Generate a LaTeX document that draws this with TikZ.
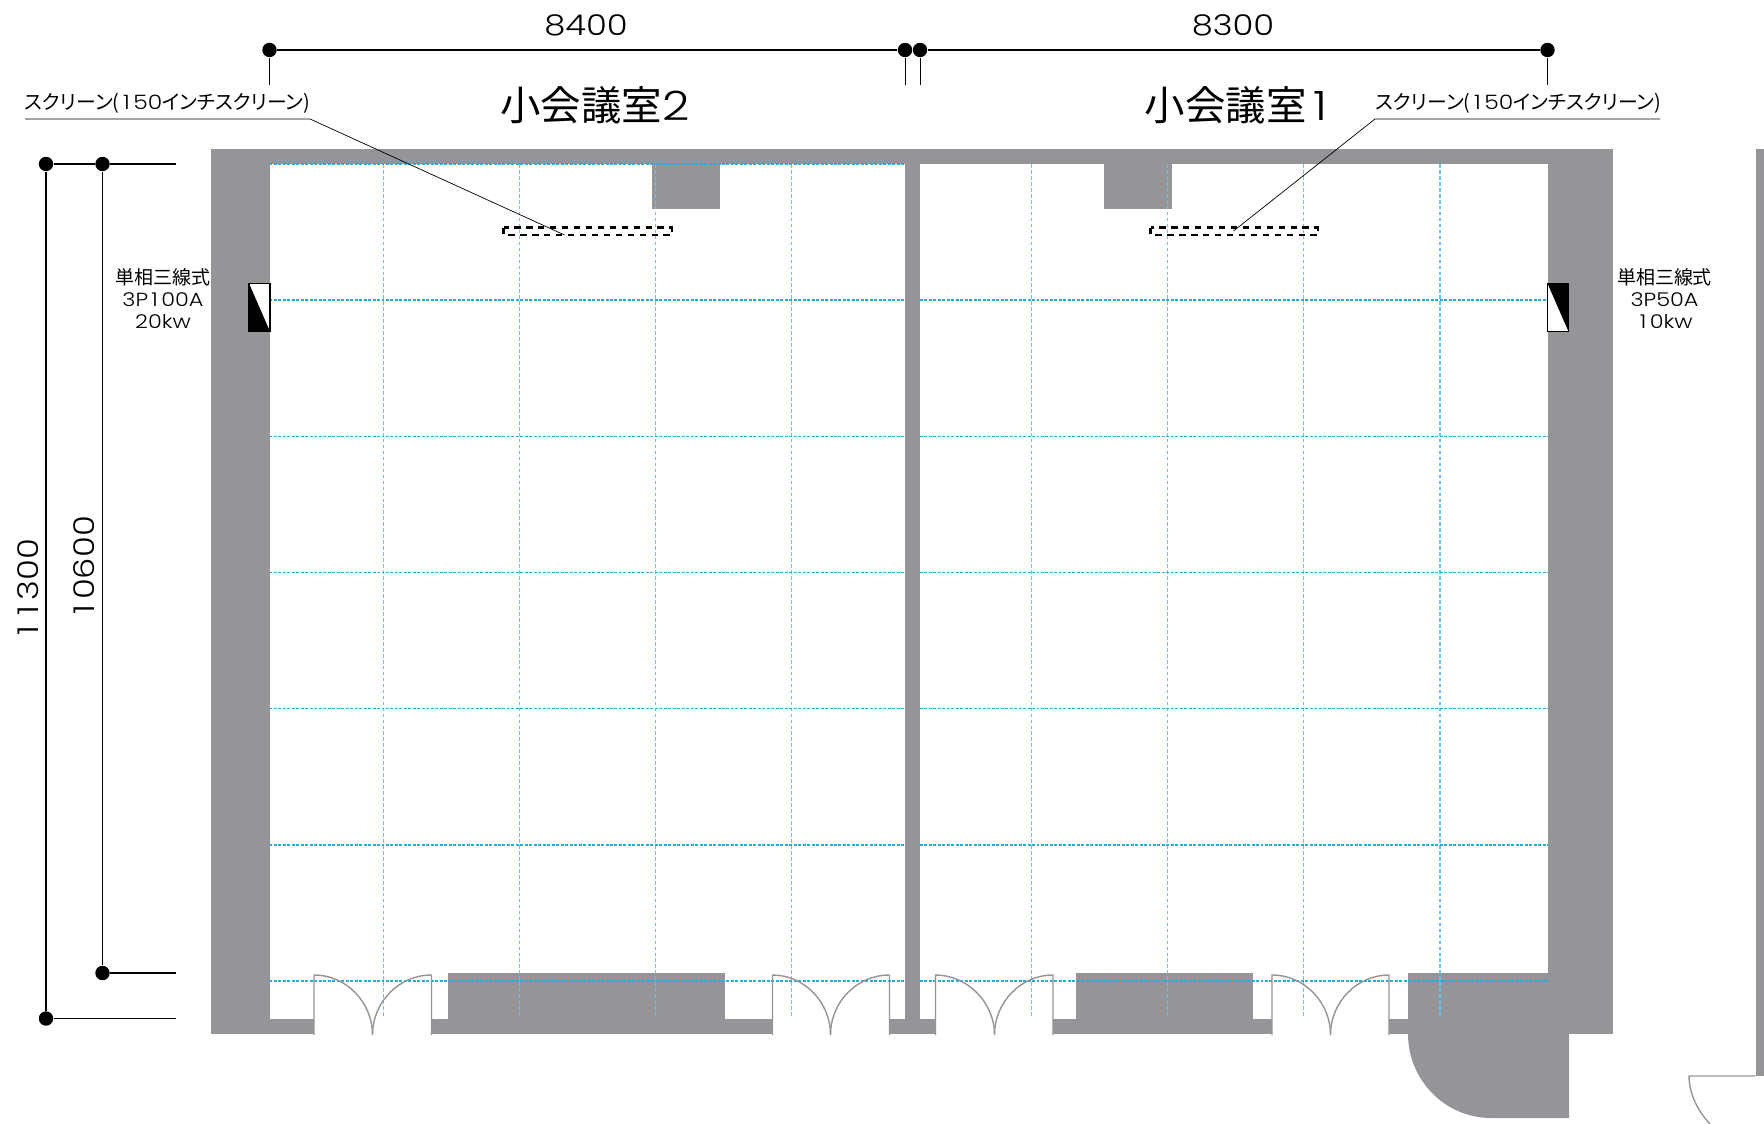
\documentclass[tikz,border=0pt]{standalone}
\usepackage{fontspec}
\setmainfont{Poppins}[UprightFont=* Light,FakeStretch=1.18]
\newfontfamily\jpfont{Noto Sans CJK JP}[RawFeature=+palt]
\newcommand{\wideone}{\makebox[0.7em]{1}}
\definecolor{wallgray}{HTML}{939598}
\definecolor{gridblue}{HTML}{29ABE2}
\tikzstyle{wall} = [fill=wallgray]
\tikzstyle{room} = [fill=white]
\tikzstyle{gridh} = [gridblue, line width=0.6pt, dash pattern=on 1.7pt off 0.85pt]
\tikzstyle{gridv} = [gridblue!70, line width=0.8pt, dash pattern=on 2.1pt off 1.3pt]
\tikzstyle{door} = [wallgray, line width=0.8pt]
\tikzstyle{dimdot} = [circle, fill=black, inner sep=0pt, minimum size=8.2pt]
\tikzstyle{dimline} = [black, line width=0.85pt]
\tikzstyle{tick} = [black, line width=0.5pt]
\tikzstyle{leader} = [black, line width=0.4pt]
\tikzstyle{screen} = [black, line width=1.6pt, dash pattern=on 3.7pt off 3.1pt]
\tikzstyle{panel} = [draw=black, line width=0.8pt, fill=white]
\tikzstyle{dimtext} = [font=\fontsize{16.3}{20}\selectfont, inner sep=0pt]
\tikzstyle{title} = [font=\fontsize{23}{27}\selectfont, inner sep=0pt]
\tikzstyle{note} = [font=\fontsize{10.8}{12.4}\selectfont, inner sep=0pt, align=center]
\tikzstyle{callout} = [font=\fontsize{11.3}{14}\selectfont, inner sep=0pt]

\begin{document}
\begin{tikzpicture}[x=0.02cm, y=-0.02cm]
	\useasboundingbox (0,0) rectangle (1764,1124);

	\fill[wall](211,149) rectangle (1613,1034);
	\fill[room](269.5,164) rectangle (905,1019);
	\fill[room](920,164) rectangle (1547.5,1019);
	\fill[wall](652,164) rectangle (720,209.5);
	\fill[wall](1104,164) rectangle (1172,209.5);
	\fill[wall](448,973) rectangle (725,1025);
	\fill[wall](1075.5,973) rectangle (1252.5,1025);
	\fill[wall](1408,973) rectangle (1550,1025);
	\fill[wall](1408,1030) -- (1408,1034) .. controls (1408,1080) and (1445,1118) .. (1491,1118) -- (1569,1118) -- (1569,1030) -- cycle;
	\fill[wall](1755.5,149) rectangle (1764,1076);

	\fill[room](314,1017) rectangle (431.5,1036);
	\fill[room](772.5,1017) rectangle (889.5,1036);
	\fill[room](935.5,1017) rectangle (1053,1036);
	\fill[room](1272,1017) rectangle (1389,1036);

	\draw[gridv](383.5,164) -- (383.5,1017);
	\draw[gridv](519.5,164) -- (519.5,1017);
	\draw[gridv](655.5,164) -- (655.5,1017);
	\draw[gridv](791.5,164) -- (791.5,1017);
	\draw[gridv](1031.5,164) -- (1031.5,1017);
	\draw[gridv](1167.5,164) -- (1167.5,1017);
	\draw[gridv](1303.5,164) -- (1303.5,1017);
	\draw[gridv](1440,164) -- (1440,1017);

	\draw[gridh](269.5,164) -- (905,164);
	\draw[gridh](269.5,300) -- (905,300);
	\draw[gridh](269.5,436.5) -- (905,436.5);
	\draw[gridh](269.5,572.8) -- (905,572.8);
	\draw[gridh](269.5,708.5) -- (905,708.5);
	\draw[gridh](269.5,845) -- (905,845);
	\draw[gridh](269.5,981) -- (905,981);
	\draw[gridh](920,300) -- (1547.5,300);
	\draw[gridh](920,436.5) -- (1547.5,436.5);
	\draw[gridh](920,572.8) -- (1547.5,572.8);
	\draw[gridh](920,708.5) -- (1547.5,708.5);
	\draw[gridh](920,845) -- (1547.5,845);
	\draw[gridh](920,981) -- (1547.5,981);

	\draw[door](314,1035) -- (314,975) .. controls (346,975) and (372.5,1002) .. (372.5,1035);
	\draw[door](431.5,1035) -- (431.5,975) .. controls (399,975) and (372.5,1002) .. (372.5,1035);
	\draw[door](772.5,1035) -- (772.5,975) .. controls (804,975) and (830.5,1002) .. (830.5,1035);
	\draw[door](889.5,1035) -- (889.5,975) .. controls (857,975) and (830.5,1002) .. (830.5,1035);
	\draw[door](935.5,1035) -- (935.5,975) .. controls (967,975) and (994.5,1002) .. (994.5,1035);
	\draw[door](1053,1035) -- (1053,975) .. controls (1021,975) and (994.5,1002) .. (994.5,1035);
	\draw[door](1272,1035) -- (1272,975) .. controls (1304,975) and (1330.5,1002) .. (1330.5,1035);
	\draw[door](1389,1035) -- (1389,975) .. controls (1357,975) and (1330.5,1002) .. (1330.5,1035);
	\draw[door](1755.5,1076) -- (1689,1076) .. controls (1689,1093) and (1697,1110) .. (1710,1124);

	\draw[screen](503.5,227.7) rectangle (672,235);
	\draw[screen](1150.5,227.7) rectangle (1318,235);

	\draw[panel](249,283.5) rectangle (270,331.5);
	\fill[black](249,283.5) -- (270,331.5) -- (249,331.5) -- cycle;
	\draw[panel](1547.5,283.5) rectangle (1568.5,331.5);
	\fill[black](1547.5,283.5) -- (1568.5,283.5) -- (1568.5,331.5) -- cycle;

	\node[dimdot](top1) at (269.5,50){};
	\node[dimdot](top2) at (905,50){};
	\node[dimdot](top3) at (920,50){};
	\node[dimdot](top4) at (1547.5,50){};
	\coordinate(top1end) at (269.5,85.5);
	\coordinate(top2end) at (905,85.5);
	\coordinate(top3end) at (920,85.5);
	\coordinate(top4end) at (1547.5,85.5);
	\draw[dimline](top1) -- (top2);
	\draw[dimline](top3) -- (top4);
	\draw[tick](top1) -- (top1end);
	\draw[tick](top2) -- (top2end);
	\draw[tick](top3) -- (top3end);
	\draw[tick](top4) -- (top4end);

	\node[dimdot](outer1) at (46,164){};
	\node[dimdot](outer2) at (46,1018.5){};
	\node[dimdot](inner1) at (102.5,164){};
	\node[dimdot](inner2) at (102.5,973){};
	\coordinate(dimend1) at (176,164);
	\coordinate(dimend2) at (176,973);
	\coordinate(dimend3) at (176,1018.5);
	\draw[dimline](outer1) -- (outer2);
	\draw[dimline](inner1) -- (inner2);
	\draw[dimline](outer1) -- (inner1);
	\draw[dimline](inner1) -- (dimend1);
	\draw[dimline](inner2) -- (dimend2);
	\draw[dimline](outer2) -- (dimend3);

	\node[dimtext](w2) at (586,25.5){8400};
	\node[dimtext](w1) at (1233,25.5){8300};
	\node[dimtext, rotate=90](h1) at (28,589.5){\wideone\wideone300};
	\node[dimtext, rotate=90](h2) at (84,568){\wideone0600};

	\node[title](room2) at (595,105){{\jpfont 小会議室}2};
	\node[title](room1) at (1236,105){{\jpfont 小会議室}\,1};

	\node[callout](label2) at (167.5,103.5){{\jpfont スクリーン(}\wideone50{\jpfont インチスクリーン)}};
	\node[callout](label1) at (1518.5,103.5){{\jpfont スクリーン(}\wideone50{\jpfont インチスクリーン)}};
	\coordinate(rule2a) at (25,119);
	\coordinate(rule2b) at (310,119);
	\coordinate(rule1a) at (1660,119);
	\coordinate(rule1b) at (1375,119);
	\coordinate(screen2) at (564.5,235);
	\coordinate(screen1) at (1233.5,231);
	\draw[leader](rule2a) -- (rule2b) -- (screen2);
	\draw[leader](rule1a) -- (rule1b) -- (screen1);

	\node[note](power2) at (163,298.5){{\jpfont 単相三線式}\\3P\wideone00A\\20kw};
	\node[note](power1) at (1664.5,298.5){{\jpfont 単相三線式}\\3P50A\\\wideone0kw};
\end{tikzpicture}
\end{document}
